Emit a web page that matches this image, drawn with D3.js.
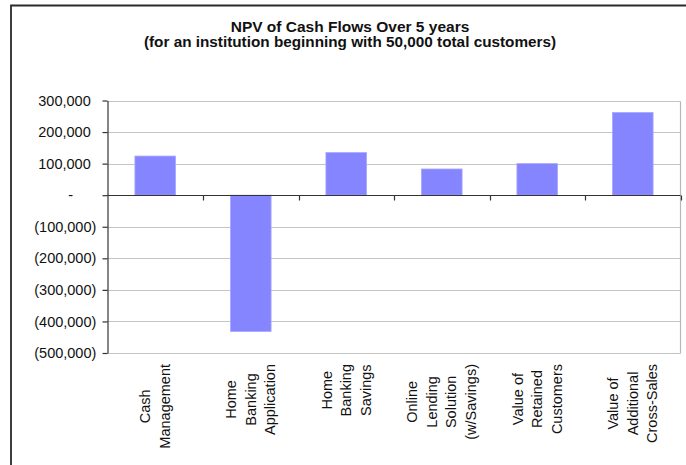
<!DOCTYPE html>
<html><head><meta charset="utf-8">
<script src="https://cdn.jsdelivr.net/npm/d3@7/dist/d3.min.js"></script>
<style>
html,body{margin:0;padding:0;background:#fff;}
svg{display:block;font-family:"Liberation Sans",Arial,sans-serif;}
</style></head>
<body>
<svg id="chart" width="686" height="465"></svg>
<script>
const titleLines = ["NPV of Cash Flows Over 5 years", "(for an institution beginning with 50,000 total customers)"];
const categories = [
  ["Cash", "Management"],
  ["Home", "Banking", "Application"],
  ["Home", "Banking", "Savings"],
  ["Online", "Lending", "Solution", "(w/Savings)"],
  ["Value of", "Retained", "Customers"],
  ["Value of", "Additional", "Cross-Sales"]
];
const values = [124000, -432000, 135000, 83000, 100000, 262000];
const tickValues = [300000, 200000, 100000, 0, -100000, -200000, -300000, -400000, -500000];
const tickLabels = ["300,000", "200,000", "100,000", "-", "(100,000)", "(200,000)", "(300,000)", "(400,000)", "(500,000)"];

const svg = d3.select("#chart");
const plotL = 107.5, plotR = 680.5, plotT = 100.5, plotB = 353;

// outer frame
svg.append("path").attr("d", "M11,465 L11,5.5 L686,5.5")
  .attr("fill", "none").attr("stroke", "#2a2a2a").attr("stroke-width", 1.8);

// titles
svg.append("text").attr("x", 350).attr("y", 31.5).attr("text-anchor", "middle")
  .attr("font-weight", "bold").attr("font-size", "15.5px").attr("fill", "#111").text(titleLines[0]);
svg.append("text").attr("x", 350).attr("y", 47).attr("text-anchor", "middle")
  .attr("font-weight", "bold").attr("font-size", "15.3px").attr("fill", "#111").text(titleLines[1]);

const y = d3.scaleLinear().domain([-500000, 300000]).range([plotB, plotT]);
const x = d3.scaleBand().domain(d3.range(categories.length)).range([plotL, plotR]).padding(0);
const barW = x.bandwidth() * 0.426;

// gridlines
svg.append("g").selectAll("line").data(tickValues.filter(v => v !== 0)).join("line")
  .attr("x1", plotL).attr("x2", plotR)
  .attr("y1", d => Math.round(y(d)) + 0.5).attr("y2", d => Math.round(y(d)) + 0.5)
  .attr("stroke", "#c4c4c4").attr("stroke-width", 1.2);
// right border
svg.append("line").attr("x1", plotR).attr("x2", plotR).attr("y1", Math.round(y(300000)) + 0.5).attr("y2", Math.round(y(-500000)) + 0.5)
  .attr("stroke", "#b8b8b8").attr("stroke-width", 1.2);

// bars
svg.append("g").selectAll("rect").data(values).join("rect")
  .attr("x", (d, i) => x(i) + x.bandwidth() / 2 - barW / 2)
  .attr("width", barW)
  .attr("y", d => y(Math.max(0, d)))
  .attr("height", d => Math.abs(y(d) - y(0)))
  .attr("fill", "#8585ff").attr("stroke", "#a8a8ff").attr("stroke-width", 0.8);

// zero axis line
const y0 = Math.round(y(0)) + 0.5;
svg.append("line").attr("x1", plotL).attr("x2", plotR).attr("y1", y0).attr("y2", y0)
  .attr("stroke", "#333").attr("stroke-width", 1.2);
svg.append("g").selectAll("line").data(d3.range(1, categories.length + 1)).join("line")
  .attr("x1", i => Math.round(plotL + i * x.step()) + 0.5).attr("x2", i => Math.round(plotL + i * x.step()) + 0.5)
  .attr("y1", y0).attr("y2", y0 + 5).attr("stroke", "#333").attr("stroke-width", 1.2);

// y axis
const yAxis = d3.axisLeft(y).tickValues(tickValues).tickFormat((d, i) => tickLabels[i]).tickSize(5).tickSizeOuter(0);
const ya = svg.append("g").attr("transform", `translate(${plotL},0)`).call(yAxis);
ya.select(".domain").attr("stroke", "#333").attr("stroke-width", 1.2);
ya.selectAll(".tick line").attr("stroke", "#333").attr("stroke-width", 1.2);
ya.selectAll(".tick text")
  .attr("font-family", "'Liberation Sans', Arial, sans-serif")
  .attr("font-size", "14.5px").attr("fill", "#111")
  .attr("x", d => d > 0 ? -16.8 : (d < 0 ? -11.2 : -34.5));

// category labels
const lineH = 19.5;
const labelTop = 364;
categories.forEach((lines, i) => {
  const cx = x(i) + x.bandwidth() / 2;
  const g = svg.append("g").attr("transform", `translate(${cx},${labelTop}) rotate(-90)`);
  const texts = g.selectAll("text").data(lines).join("text")
    .attr("text-anchor", "middle")
    .attr("font-size", "14.5px").attr("fill", "#111")
    .attr("y", (d, k) => (k - (lines.length - 1) / 2) * lineH)
    .attr("dy", "0.33em")
    .text(d => d);
  let maxLen = 0;
  texts.each(function () { maxLen = Math.max(maxLen, this.getComputedTextLength()); });
  texts.attr("x", -maxLen / 2);
});
</script>
</body></html>
